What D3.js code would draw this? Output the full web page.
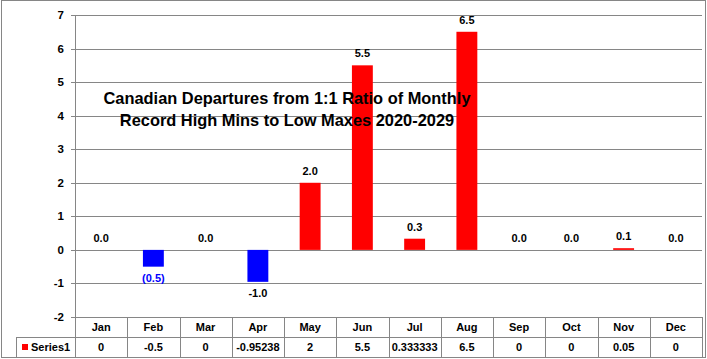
<!DOCTYPE html>
<html><head>
<meta charset="utf-8">
<script src="https://d3js.org/d3.v7.min.js"></script>
<style>
  body { margin: 0; background: #fff; }
  text { font-family: "Liberation Sans", Arial, sans-serif; font-weight: bold; }
</style>
</head>
<body>
<svg id="chart" width="707" height="359"></svg>
<script>
// data
const months = ["Jan","Feb","Mar","Apr","May","Jun","Jul","Aug","Sep","Oct","Nov","Dec"];
const values = [0, -0.5, 0, -0.95238, 2, 5.5, 0.333333, 6.5, 0, 0, 0.05, 0];
const barLabels = ["0.0","(0.5)","0.0","-1.0","2.0","5.5","0.3","6.5","0.0","0.0","0.1","0.0"];
const yTicks = [-2,-1,0,1,2,3,4,5,6,7];
const seriesName = "Series1";
const titleLines = ["Canadian Departures from 1:1 Ratio of Monthly", "Record High Mins to Low Maxes 2020-2029"];

const svg = d3.select("#chart");
const grid = "#868686";
const plot = { left: 75, right: 702, top: 15, bottom: 317 };
const rowH = 20;

// outer border
svg.append("rect").attr("x", 1.5).attr("y", 0.5).attr("width", 704).attr("height", 357)
   .attr("fill", "none").attr("stroke", grid);

const x = d3.scaleBand().domain(months).range([plot.left, plot.right]).paddingInner(0.6).paddingOuter(0.3);
const xc = d3.scaleBand().domain(months).range([plot.left, plot.right]);
const y = d3.scaleLinear().domain([-2, 7]).range([plot.bottom, plot.top]);

// gridlines
svg.append("g").selectAll("line").data(yTicks).join("line")
   .attr("x1", plot.left - 4).attr("x2", plot.right)
   .attr("y1", d => Math.round(y(d)) + 0.5).attr("y2", d => Math.round(y(d)) + 0.5)
   .attr("stroke", grid);

// y tick labels
svg.append("g").selectAll("text").data(yTicks).join("text")
   .attr("x", 64).attr("y", d => y(d) + 4)
   .attr("text-anchor", "end").attr("font-size", 11.5)
   .text(d => d);

// bars
svg.append("g").selectAll("rect").data(values).join("rect")
   .attr("x", (d, i) => x(months[i]))
   .attr("width", x.bandwidth())
   .attr("y", d => y(Math.max(0, d)))
   .attr("height", d => Math.abs(y(d) - y(0)))
   .attr("fill", d => d < 0 ? "#0000ff" : "#ff0000");

// data labels
svg.append("g").selectAll("text").data(values).join("text")
   .attr("x", (d, i) => x(months[i]) + x.bandwidth() / 2)
   .attr("y", d => d < 0 ? y(d) + 15 : y(d) - 8)
   .attr("text-anchor", "middle").attr("font-size", 11)
   .attr("fill", (d, i) => barLabels[i].startsWith("(") ? "#0000ff" : "#000")
   .text((d, i) => barLabels[i]);

// title
svg.append("g").selectAll("text").data(titleLines).join("text")
   .attr("x", 287).attr("y", (d, i) => 104 + i * 22)
   .attr("text-anchor", "middle").attr("font-size", 16.4)
   .text(d => d);

// data table
const t = svg.append("g");
const tTop = plot.bottom, tMid = plot.bottom + rowH, tBot = plot.bottom + 2 * rowH;
t.append("line").attr("x1", plot.left + 0.5).attr("x2", plot.left + 0.5).attr("y1", plot.top).attr("y2", tBot).attr("stroke", grid);
t.selectAll("line.v").data(months).join("line").attr("class", "v")
   .attr("x1", d => Math.round(xc(d) + xc.bandwidth()) + 0.5).attr("x2", d => Math.round(xc(d) + xc.bandwidth()) + 0.5)
   .attr("y1", tTop).attr("y2", tBot).attr("stroke", grid);
[tMid, tBot].forEach(yy => {
  t.append("line").attr("x1", 16).attr("x2", plot.right + 1).attr("y1", yy + 0.5).attr("y2", yy + 0.5).attr("stroke", grid);
});
t.append("line").attr("x1", 16.5).attr("x2", 16.5).attr("y1", tMid).attr("y2", tBot).attr("stroke", grid);

t.selectAll("text.cat").data(months).join("text").attr("class", "cat")
   .attr("x", d => xc(d) + xc.bandwidth() / 2).attr("y", tTop + 14)
   .attr("text-anchor", "middle").attr("font-size", 11).text(d => d);
t.selectAll("text.val").data(values).join("text").attr("class", "val")
   .attr("x", (d, i) => xc(months[i]) + xc.bandwidth() / 2).attr("y", tMid + 14)
   .attr("text-anchor", "middle").attr("font-size", 11).text(d => String(d));

// legend key
t.append("rect").attr("x", 22).attr("y", tMid + 7).attr("width", 6).attr("height", 6).attr("fill", "#ff0000");
t.append("text").attr("x", 31).attr("y", tMid + 14).attr("font-size", 11).text(seriesName);
</script>
</body></html>
